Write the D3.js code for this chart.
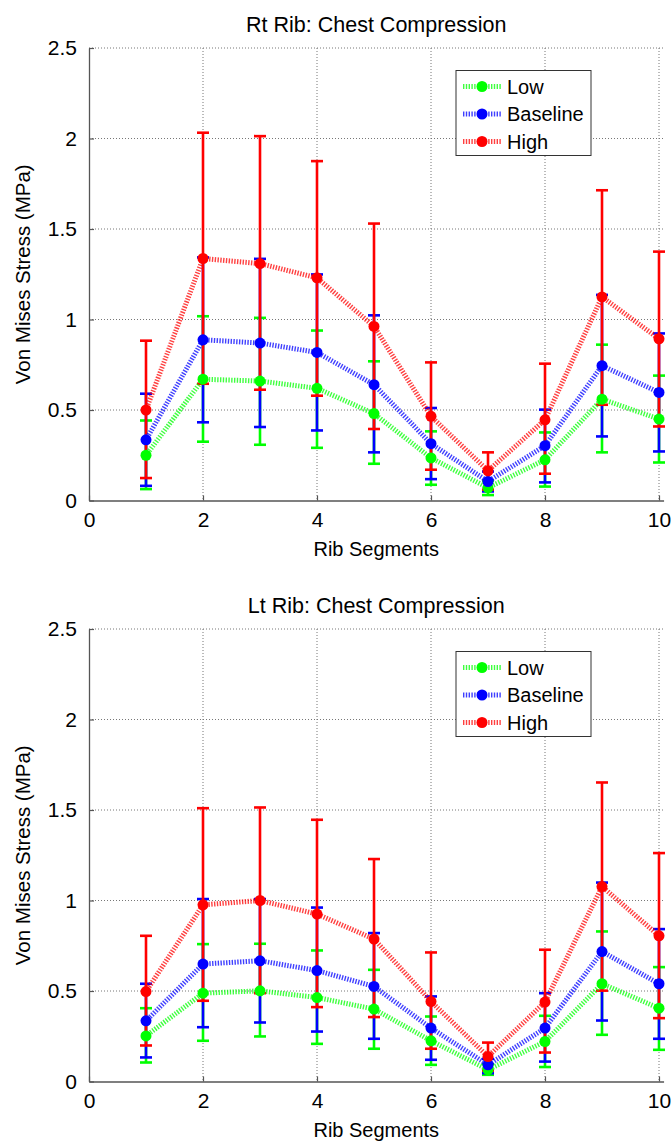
<!DOCTYPE html>
<html>
<head>
<meta charset="utf-8">
<script src="https://cdn.jsdelivr.net/npm/d3@7"></script>
<style>
  body { margin: 0; background: #fff; }
  svg { display: block; font-family: "Liberation Sans", Arial, Helvetica, sans-serif; }
</style>
</head>
<body>
<svg id="chart" width="672" height="1142"></svg>
<script>
// rib segment numbers (x values)
const ribSegments = [1, 2, 3, 4, 5, 6, 7, 8, 9, 10]
const seriesNames = ["Low", "Baseline", "High"]
const xTicks = [0, 2, 4, 6, 8, 10]
const yTicks = [0, 0.5, 1, 1.5, 2, 2.5]

// Rt rib panel
const rtLowMean  = [0.25, 0.67, 0.66, 0.62, 0.48, 0.235, 0.07, 0.225, 0.56, 0.45]
const rtLowLo    = [0.063, 0.325, 0.308, 0.291, 0.203, 0.087, 0.03, 0.077, 0.266, 0.21]
const rtLowHi    = [0.442, 1.018, 1.009, 0.939, 0.769, 0.382, 0.11, 0.376, 0.861, 0.69]
const rtBaseMean = [0.335, 0.888, 0.87, 0.818, 0.64, 0.314, 0.105, 0.303, 0.745, 0.597]
const rtBaseLo   = [0.081, 0.432, 0.406, 0.387, 0.266, 0.118, 0.05, 0.10, 0.354, 0.271]
const rtBaseHi   = [0.59, 1.343, 1.335, 1.249, 1.023, 0.511, 0.16, 0.502, 1.136, 0.923]
const rtHighMean = [0.50, 1.337, 1.309, 1.23, 0.962, 0.465, 0.164, 0.446, 1.125, 0.893]
const rtHighLo   = [0.124, 0.645, 0.612, 0.579, 0.395, 0.17, 0.06, 0.148, 0.529, 0.409]
const rtHighHi   = [0.883, 2.032, 2.013, 1.875, 1.53, 0.763, 0.266, 0.756, 1.714, 1.375]

// Lt rib panel
const ltLowMean  = [0.252, 0.488, 0.501, 0.464, 0.40, 0.225, 0.065, 0.221, 0.54, 0.405]
const ltLowLo    = [0.105, 0.225, 0.249, 0.208, 0.181, 0.092, 0.037, 0.08, 0.258, 0.175]
const ltLowHi    = [0.405, 0.759, 0.761, 0.724, 0.617, 0.359, 0.095, 0.363, 0.829, 0.632]
const ltBaseMean = [0.335, 0.649, 0.667, 0.613, 0.525, 0.295, 0.092, 0.295, 0.718, 0.54]
const ltBaseLo   = [0.133, 0.30, 0.326, 0.276, 0.236, 0.12, 0.046, 0.11, 0.337, 0.236]
const ltBaseHi   = [0.54, 1.008, 1.008, 0.961, 0.82, 0.47, 0.125, 0.488, 1.099, 0.842]
const ltHighMean = [0.497, 0.976, 1.0, 0.925, 0.787, 0.442, 0.138, 0.439, 1.077, 0.805]
const ltHighLo   = [0.199, 0.446, 0.488, 0.411, 0.356, 0.181, 0.06, 0.16, 0.502, 0.35]
const ltHighHi   = [0.805, 1.51, 1.514, 1.446, 1.229, 0.713, 0.215, 0.728, 1.652, 1.262]

const colors = {Low: "#00ff00", Baseline: "#0000ff", High: "#ff0000"}

function buildSeries(means, los, his) {
    return seriesNames.map((name, s) => ({
        name: name,
        points: ribSegments.map((x, i) => ({x: x, y: means[s][i], lo: los[s][i], hi: his[s][i]}))
    }))
}

const panels = [
    {title: "Rt Rib: Chest Compression", top: 48, bottom: 500.5,
     series: buildSeries([rtLowMean, rtBaseMean, rtHighMean], [rtLowLo, rtBaseLo, rtHighLo], [rtLowHi, rtBaseHi, rtHighHi])},
    {title: "Lt Rib: Chest Compression", top: 629, bottom: 1081.5,
     series: buildSeries([ltLowMean, ltBaseMean, ltHighMean], [ltLowLo, ltBaseLo, ltHighLo], [ltLowHi, ltBaseHi, ltHighHi])}
]

const svg = d3.select("#chart")
const left = 89
const scaleX = d3.scaleLinear().domain([0, 10.08]).range([left, left + 57 * 10.08])

function drawPanel(p) {
    let g = svg.append("g")
    let scaleY = d3.scaleLinear().domain([0, 2.5]).range([p.bottom, p.top])
    let right = scaleX.range()[1]

    // grid
    let grid = g.append("g").attr("class", "grid")
    grid.selectAll("line.h")
        .data(yTicks.filter(d => d > 0))
        .join("line")
        .attr("x1", left).attr("x2", right)
        .attr("y1", d => scaleY(d)).attr("y2", d => scaleY(d))
    grid.selectAll("line.v")
        .data(xTicks.filter(d => d > 0))
        .join("line")
        .attr("class", "v")
        .attr("x1", d => scaleX(d)).attr("x2", d => scaleX(d))
        .attr("y1", p.top).attr("y2", p.bottom)
    grid.selectAll("line")
        .attr("stroke", "#777")
        .attr("stroke-width", 1)
        .attr("stroke-dasharray", "1,2")

    // axes (ticks point inward like matlab)
    let xAxis = d3.axisBottom(scaleX).tickValues(xTicks).tickSizeInner(-5).tickSizeOuter(0).tickPadding(12).tickFormat(d3.format("~g"))
    let yAxis = d3.axisLeft(scaleY).tickValues(yTicks).tickSizeInner(-5).tickSizeOuter(0).tickPadding(12).tickFormat(d3.format("~g"))
    let gx = g.append("g").attr("transform", `translate(0, ${p.bottom})`).call(xAxis)
    let gy = g.append("g").attr("transform", `translate(${left}, 0)`).call(yAxis)
    g.selectAll(".domain").attr("stroke", "#555").attr("stroke-width", 1.3)
    g.selectAll(".tick line").attr("stroke", "#555").attr("stroke-width", 1.2)
    gx.selectAll("text").attr("font-size", 21).attr("fill", "#000").attr("font-family", null)
    gy.selectAll("text").attr("font-size", 21).attr("fill", "#000").attr("font-family", null)

    // labels
    g.append("text").text(p.title)
        .attr("x", (left + right) / 2).attr("y", p.top - 16)
        .attr("text-anchor", "middle").attr("font-size", 21.5)
    g.append("text").text("Rib Segments")
        .attr("x", (left + right) / 2).attr("y", p.bottom + 55)
        .attr("text-anchor", "middle").attr("font-size", 20)
    g.append("text").text("Von Mises Stress (MPa)")
        .attr("transform", `translate(30, ${(p.top + p.bottom) / 2}) rotate(-90)`)
        .attr("text-anchor", "middle").attr("font-size", 20.5)

    // error bars
    let bars = g.append("g").selectAll("g")
        .data(p.series)
        .join("g")
        .attr("stroke", d => colors[d.name])
        .attr("stroke-width", 2.6)
    bars.selectAll("line.stem")
        .data(d => d.points)
        .join("line")
        .attr("x1", d => scaleX(d.x)).attr("x2", d => scaleX(d.x))
        .attr("y1", d => scaleY(d.lo)).attr("y2", d => scaleY(d.hi))
    bars.selectAll("line.caplo")
        .data(d => d.points)
        .join("line")
        .attr("class", "caplo")
        .attr("x1", d => scaleX(d.x) - 6).attr("x2", d => scaleX(d.x) + 6)
        .attr("y1", d => scaleY(d.lo)).attr("y2", d => scaleY(d.lo))
    bars.selectAll("line.caphi")
        .data(d => d.points)
        .join("line")
        .attr("class", "caphi")
        .attr("x1", d => scaleX(d.x) - 6).attr("x2", d => scaleX(d.x) + 6)
        .attr("y1", d => scaleY(d.hi)).attr("y2", d => scaleY(d.hi))

    // dotted lines
    let lineGenerator = d3.line().x(d => scaleX(d.x)).y(d => scaleY(d.y))
    g.append("g").selectAll("path")
        .data(p.series)
        .join("path")
        .attr("d", d => lineGenerator(d.points))
        .attr("fill", "none")
        .attr("stroke", d => colors[d.name])
        .attr("stroke-width", 5)
        .attr("stroke-dasharray", "1.4,1.4")
        .attr("opacity", 0.75)

    // markers
    g.append("g").selectAll("g")
        .data(p.series)
        .join("g")
        .attr("fill", d => colors[d.name])
        .selectAll("circle")
        .data(d => d.points)
        .join("circle")
        .attr("cx", d => scaleX(d.x))
        .attr("cy", d => scaleY(d.y))
        .attr("r", 5.5)

    // legend
    let lg = g.append("g").attr("transform", `translate(456, ${p.top + 22.5})`)
    lg.append("rect").attr("width", 135).attr("height", 85)
        .attr("fill", "#fff").attr("stroke", "#333").attr("stroke-width", 1)
    let items = lg.selectAll("g.item")
        .data(seriesNames)
        .join("g")
        .attr("transform", (d, i) => `translate(0, ${16 + i * 27.5})`)
    items.append("line")
        .attr("x1", 7).attr("x2", 45).attr("y1", 0).attr("y2", 0)
        .attr("stroke", d => colors[d]).attr("stroke-width", 5)
        .attr("stroke-dasharray", "1.4,1.4").attr("opacity", 0.75)
    items.append("circle").attr("cx", 26).attr("cy", 0).attr("r", 5.5).attr("fill", d => colors[d])
    items.append("text").text(d => d)
        .attr("x", 51).attr("y", 7).attr("font-size", 20)
}

panels.forEach(drawPanel)
</script>
</body>
</html>
